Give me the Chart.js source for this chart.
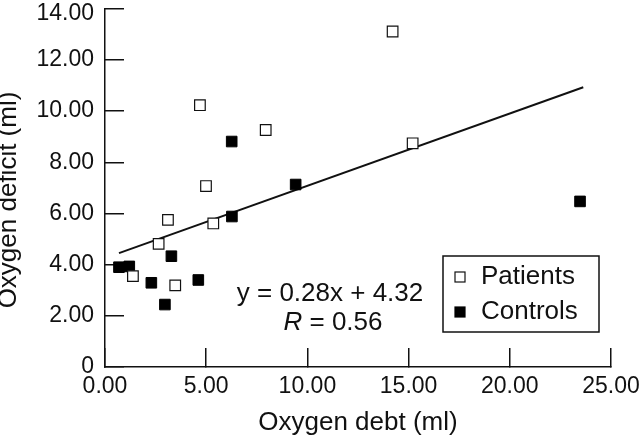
<!DOCTYPE html>
<html>
<head>
<meta charset="utf-8">
<script src="https://cdn.jsdelivr.net/npm/chart.js@4/dist/chart.umd.min.js"></script>
<style>
  html, body { margin: 0; padding: 0; background: #fff; }
  #wrap { width: 640px; height: 438px; }
</style>
</head>
<body>
<div id="wrap"><canvas id="debt" width="640" height="438"></canvas></div>
<script>
// values (x = oxygen debt, y = oxygen deficit, both ml)
const patientsDebt = [14.21, 4.69, 7.94, 15.2, 4.99, 3.11, 5.35, 2.65, 1.38, 3.47];
const patientsDeficit = [13.11, 10.23, 9.26, 8.74, 7.07, 5.75, 5.61, 4.81, 3.55, 3.19];
const controlsDebt = [6.26, 9.42, 6.27, 3.28, 0.69, 1.2, 2.29, 4.61, 2.96, 23.47];
const controlsDeficit = [8.81, 7.13, 5.88, 4.33, 3.9, 3.93, 3.29, 3.4, 2.44, 6.47];
const fitDebt = [0.69, 23.63];
const fitDeficit = [4.45, 10.93];
const xTicks = [0, 5, 10, 15, 20, 25];
const yTicks = [0, 2, 4, 6, 8, 10, 12, 14];

const FONT = 'Liberation Sans, Arial, Helvetica, sans-serif';
const INK = '#111';

const toPoints = (xs, ys) => xs.map((x, i) => ({ x: x, y: ys[i] }));

// equation, legend box and y title drawn on top
const notes = {
  id: 'notes',
  afterDraw(chart) {
    const c = chart.ctx;
    c.save();
    c.fillStyle = INK;
    c.textBaseline = 'middle';

    c.font = '26px ' + FONT;
    c.textAlign = 'center';
    c.fillText('y = 0.28x + 4.32', 330, 294);

    // R = 0.56 with italic R
    const rest = ' = 0.56';
    c.font = 'italic 26px ' + FONT;
    const wR = c.measureText('R').width;
    c.font = '26px ' + FONT;
    const wRest = c.measureText(rest).width;
    const x0 = 333 - (wR + wRest) / 2;
    c.textAlign = 'left';
    c.font = 'italic 26px ' + FONT;
    c.fillText('R', x0, 323);
    c.font = '26px ' + FONT;
    c.fillText(rest, x0 + wR, 323);

    // legend
    c.strokeStyle = INK;
    c.lineWidth = 1.5;
    c.strokeRect(443, 256, 156, 76);
    const sets = chart.data.datasets;
    [[sets[0], 277], [sets[1], 312]].forEach(([ds, y]) => {
      c.fillStyle = ds.pointBackgroundColor;
      c.strokeStyle = ds.pointBorderColor;
      c.lineWidth = 1.2;
      c.fillRect(455, y - 5, 10, 10);
      c.strokeRect(455, y - 5, 10, 10);
      c.fillStyle = INK;
      c.font = '26px ' + FONT;
      c.fillText(ds.label, 481, y);
    });

    // y axis title
    c.translate(9, 200);
    c.rotate(-Math.PI / 2);
    c.textAlign = 'center';
    c.fillText('Oxygen deficit (ml)', 0, 0);
    c.restore();
  }
};

new Chart(document.getElementById('debt'), {
  type: 'scatter',
  data: {
    datasets: [
      {
        label: 'Patients',
        data: toPoints(patientsDebt, patientsDeficit),
        pointStyle: 'rect',
        pointRadius: 7.5,
        pointBorderWidth: 1.2,
        pointBackgroundColor: '#fff',
        pointBorderColor: INK,
        order: 1
      },
      {
        label: 'Controls',
        data: toPoints(controlsDebt, controlsDeficit),
        pointStyle: 'rect',
        pointRadius: 7.5,
        pointBorderWidth: 1,
        pointBackgroundColor: '#000',
        pointBorderColor: '#000',
        order: 2
      },
      {
        label: 'fit',
        type: 'line',
        data: toPoints(fitDebt, fitDeficit),
        borderColor: INK,
        borderWidth: 2,
        pointRadius: 0,
        fill: false,
        order: 3
      }
    ]
  },
  options: {
    responsive: false,
    animation: false,
    events: [],
    layout: { padding: { left: 0, top: 7, right: 29, bottom: 0 } },
    plugins: {
      legend: { display: false },
      tooltip: { enabled: false }
    },
    scales: {
      x: {
        type: 'linear',
        min: 0,
        max: 25,
        afterBuildTicks: (s) => { s.ticks = xTicks.map(v => ({ value: v })); },
        afterFit: (s) => {
          s.height = 71;
          s.paddingLeft = 0; s.paddingRight = 0; s.paddingTop = 0; s.paddingBottom = 0;
        },
        border: { display: true, color: INK, width: 1.5 },
        grid: { drawOnChartArea: false, drawTicks: true, tickLength: -19, color: INK, lineWidth: 1.5 },
        ticks: {
          padding: 25,
          color: INK,
          font: { family: FONT, size: 23 },
          maxRotation: 0,
          callback: (v) => v.toFixed(2)
        },
        title: {
          display: true,
          text: 'Oxygen debt (ml)',
          color: INK,
          font: { family: FONT, size: 26 },
          padding: { top: 0, bottom: 0 }
        }
      },
      y: {
        type: 'linear',
        min: 0,
        max: 14,
        afterBuildTicks: (s) => { s.ticks = yTicks.map(v => ({ value: v })); },
        afterFit: (s) => {
          s.width = 105;
          s.paddingLeft = 0; s.paddingRight = 0; s.paddingTop = 0; s.paddingBottom = 0;
        },
        border: { display: true, color: INK, width: 1.5 },
        grid: { drawOnChartArea: false, drawTicks: true, tickLength: -19, color: INK, lineWidth: 1.5 },
        ticks: {
          padding: 30,
          color: INK,
          // top label sits a little lower so it is not cut by the canvas edge
          font: (ctx) => ({ family: FONT, size: 23, lineHeight: ctx.tick && ctx.tick.value === 14 ? '10px' : 1.2 }),
          callback: (v) => (v === 0 ? '0' : v === 14 ? ['', v.toFixed(2)] : v.toFixed(2))
        }
      }
    }
  },
  plugins: [notes]
});
</script>
</body>
</html>
